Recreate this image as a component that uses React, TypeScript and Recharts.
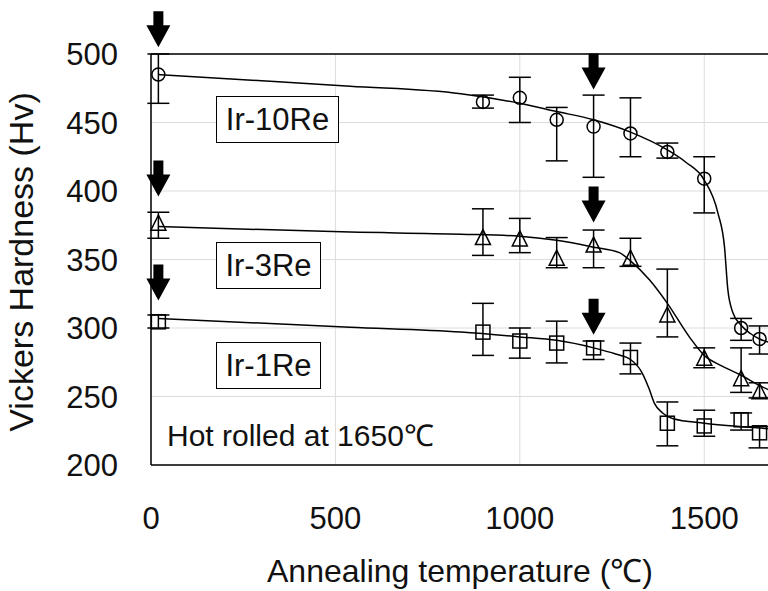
import {
  ComposedChart,
  Line,
  Scatter,
  ErrorBar,
  XAxis,
  YAxis,
  CartesianGrid,
  ReferenceDot,
  ReferenceLine,
} from 'recharts';

// measured points (annealing temperature, Hv) with [low, high] error deltas
const temps = [20, 900, 1000, 1100, 1200, 1300, 1400, 1500, 1600, 1650];

const hv10 = [485, 465, 468, 452, 447, 442, 428.5, 409, 300, 292];
const err10 = [[21, 15], [4.5, 5], [18, 15], [30, 9], [37, 23], [17, 26], [4.5, 6.5], [25, 16], [9, 7], [11, 9.5]];

const hv3 = [376.5, 366, 365, 351, 360.5, 351, 309.5, 278, 263, 253.5];
const err3 = [[11, 8], [13, 21], [10, 15], [7, 15], [16.5, 11], [6, 14.5], [16, 33.5], [7, 7.5], [10, 22.5], [4.5, 6.5]];

const hv1 = [304.5, 297, 290.5, 289, 285.5, 278.5, 230.5, 228.5, 233, 223.5];
const err1 = [[4.5, 5], [17, 21], [12.5, 9.5], [14.5, 16], [8.5, 5], [12, 10.5], [16.5, 15.5], [7.5, 11.5], [7.5, 5], [11, 4.5]];

// fitted curves
const fitT10 = [20, 300, 540, 840, 1000, 1100, 1200, 1300, 1400, 1450, 1500, 1537, 1555, 1564, 1578, 1600, 1625, 1650, 1700];
const fitHv10 = [485, 480.5, 476.5, 471, 464, 458, 452, 443, 430, 421, 408, 384, 359, 328, 311, 302, 296, 292, 288];

const fitT3 = [20, 540, 840, 1000, 1100, 1200, 1270, 1300, 1352, 1400, 1461, 1500, 1550, 1600, 1650, 1700];
const fitHv3 = [374, 370, 368.5, 367, 364, 359, 355, 349, 335, 318, 293, 280, 272, 265.5, 258, 252];

const fitT1 = [20, 540, 840, 1000, 1100, 1200, 1260, 1300, 1330, 1350, 1365, 1387, 1414, 1500, 1600, 1650, 1700];
const fitHv1 = [307, 300.5, 297, 293.5, 291, 285.5, 281, 277, 268, 256, 245, 238, 234, 230.5, 228, 227, 226];

// arrow tips
const arrowT = [20, 1200, 20, 1200, 20, 1200];
const arrowHv = [505, 474, 396, 377, 320, 295];

const xTicks = [0, 500, 1000, 1500];
const yTicks = [200, 250, 300, 350, 400, 450, 500];

const pts = (hv: number[], err: number[][]) => temps.map((t, i) => ({ t, hv: hv[i], err: err[i] }));
const fit = (ts: number[], hv: number[]) => ts.map((t, i) => ({ t, hv: hv[i] }));

const FONT = '"Liberation Sans", Arial, sans-serif';

const Circle = (p: any) => <circle cx={p.cx} cy={p.cy} r={6.5} fill="none" stroke="#000" strokeWidth={1.5} />;
const Square = (p: any) => <rect x={p.cx - 7} y={p.cy - 7} width={14} height={14} fill="none" stroke="#000" strokeWidth={1.5} />;
const Triangle = (p: any) => (
  <path d={`M${p.cx},${p.cy - 8} L${p.cx + 7.5},${p.cy + 7} L${p.cx - 7.5},${p.cy + 7} Z`} fill="none" stroke="#000" strokeWidth={1.5} />
);
const Arrow = (p: any) => (
  <path
    d={`M${p.cx - 5},${p.cy - 36} h10 v14 h7 L${p.cx},${p.cy} L${p.cx - 12},${p.cy - 22} h7 Z`}
    fill="#000"
  />
);

function Tag({ left, top, width, text }: { left: number; top: number; width: number; text: string }) {
  return (
    <div
      style={{
        position: 'absolute',
        left,
        top,
        width,
        height: 47,
        boxSizing: 'border-box',
        border: '1.5px solid #000',
        background: '#fff',
        display: 'flex',
        alignItems: 'center',
        justifyContent: 'center',
        fontSize: 31,
        color: '#111',
      }}
    >
      {text}
    </div>
  );
}

export default function App() {
  const tick = { fontSize: 31, fill: '#111', fontFamily: FONT };
  return (
    <div style={{ position: 'absolute', left: 0, top: 0, width: 768, height: 591, overflow: 'hidden', background: '#fff', fontFamily: FONT }}>
      <ComposedChart width={800} height={591} margin={{ top: 54, right: 22, bottom: 0, left: 0 }}>
        <CartesianGrid stroke="#dcdcdc" strokeWidth={1} />
        <XAxis
          type="number"
          dataKey="t"
          domain={[0, 1700]}
          ticks={xTicks}
          height={126}
          tickSize={0}
          tickMargin={42}
          tick={tick}
          axisLine={{ stroke: '#000', strokeWidth: 1.5 }}
          label={{
            content: () => (
              <text x={460} y={582} textAnchor="middle" fontSize={32} fill="#111" fontFamily={FONT}>
                Annealing temperature (℃)
              </text>
            ),
          }}
        />
        <YAxis
          type="number"
          dataKey="hv"
          domain={[200, 500]}
          ticks={yTicks}
          width={151}
          tickSize={0}
          tickMargin={33}
          tick={tick}
          axisLine={{ stroke: '#000', strokeWidth: 1.5 }}
          label={{
            content: () => (
              <text x={33} y={262} transform="rotate(-90 33 262)" textAnchor="middle" fontSize={34} fill="#111" fontFamily={FONT}>
                Vickers Hardness (Hv)
              </text>
            ),
          }}
        />
        <ReferenceLine y={500} stroke="#000" strokeWidth={1.5} />

        <Line data={fit(fitT10, fitHv10)} dataKey="hv" type="monotone" dot={false} stroke="#000" strokeWidth={1.5} isAnimationActive={false} />
        <Line data={fit(fitT3, fitHv3)} dataKey="hv" type="monotone" dot={false} stroke="#000" strokeWidth={1.5} isAnimationActive={false} />
        <Line data={fit(fitT1, fitHv1)} dataKey="hv" type="monotone" dot={false} stroke="#000" strokeWidth={1.5} isAnimationActive={false} />

        <Scatter data={pts(hv10, err10)} dataKey="hv" shape={Circle} isAnimationActive={false}>
          <ErrorBar dataKey="err" direction="y" width={11} stroke="#000" strokeWidth={1.5} isAnimationActive={false} />
        </Scatter>
        <Scatter data={pts(hv3, err3)} dataKey="hv" shape={Triangle} isAnimationActive={false}>
          <ErrorBar dataKey="err" direction="y" width={11} stroke="#000" strokeWidth={1.5} isAnimationActive={false} />
        </Scatter>
        <Scatter data={pts(hv1, err1)} dataKey="hv" shape={Square} isAnimationActive={false}>
          <ErrorBar dataKey="err" direction="y" width={11} stroke="#000" strokeWidth={1.5} isAnimationActive={false} />
        </Scatter>

        {arrowT.map((t, i) => (
          <ReferenceDot key={i} x={t} y={arrowHv[i]} ifOverflow="visible" shape={Arrow} />
        ))}
      </ComposedChart>

      <Tag left={216} top={96} width={123} text="Ir-10Re" />
      <Tag left={216} top={242} width={105} text="Ir-3Re" />
      <Tag left={216} top={342} width={105} text="Ir-1Re" />
      <div style={{ position: 'absolute', left: 167, top: 418, fontSize: 30, lineHeight: '36px', color: '#111', whiteSpace: 'nowrap' }}>
        Hot rolled at 1650℃
      </div>
    </div>
  );
}
